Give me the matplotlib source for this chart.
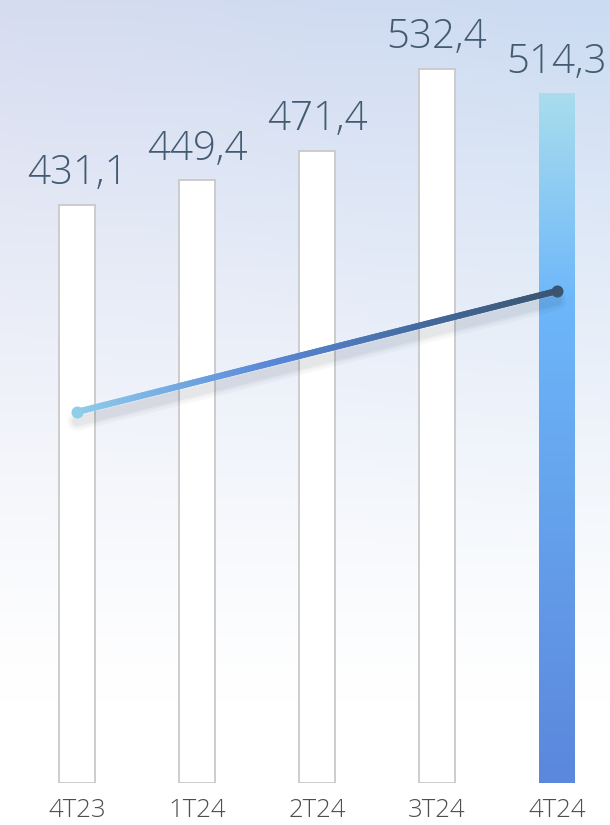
import numpy as np
import matplotlib
matplotlib.use("Agg")
import matplotlib.pyplot as plt
from matplotlib.colors import LinearSegmentedColormap, to_rgb
from matplotlib.collections import LineCollection
from matplotlib.patches import Rectangle

categories = ["4T23", "1T24", "2T24", "3T24", "4T24"]
values = [431.1, 449.4, 471.4, 532.4, 514.3]
labels = ["431,1", "449,4", "471,4", "532,4", "514,3"]
line_x = [0, 4]
line_vals = [276.7, 366.9]

W, H = 610, 825
fig = plt.figure(figsize=(W / 100, H / 100), dpi=100)

# background gradient
bg = fig.add_axes([0, 0, 1, 1])
bg.set_axis_off()
ny, nx = 200, 60
yy = np.linspace(0, 1, ny)[:, None]  # 0 top
xx = np.linspace(0, 1, nx)[None, :]
top_left = np.array(to_rgb("#d6dcf0"))
top_right = np.array(to_rgb("#cbdbf2"))
topc = top_left[None, None, :] * (1 - xx[..., None]) + top_right[None, None, :] * xx[..., None]
f = np.clip(1 - yy / 0.85, 0, 1) ** 1.2
img = 1 - (1 - topc) * f[..., None]
bg.imshow(img, aspect="auto", extent=[0, 1, 0, 1], origin="upper")
bg.set_xlim(0, 1)
bg.set_ylim(0, 1)

ax = fig.add_axes([0, (H - 783) / H, 1, 783 / H])
ax.patch.set_alpha(0)
xlim = (-77 / 120, (W - 77) / 120)
ylim = (0, 783 / 1.341)
ax.set_xlim(*xlim)
ax.set_ylim(*ylim)
for s in ax.spines.values():
    s.set_visible(False)
ax.tick_params(length=0)
ax.set_yticks([])

bw = 0.3
x = np.arange(len(categories))
for i, v in enumerate(values):
    if i < len(values) - 1:
        ax.bar(x[i], v, width=bw, color="white", edgecolor="#c9c9c9", linewidth=1.3, zorder=2)
    else:
        rect = Rectangle((x[i] - bw / 2, 0), bw, v, facecolor="none", edgecolor="none")
        ax.add_patch(rect)
        cmap_bar = LinearSegmentedColormap.from_list(
            "bar", [(0, "#5b87dc"), (0.7, "#6db7fa"), (1.0, "#a9dded")])
        grad = np.linspace(0, 1, 256)[:, None]
        im = ax.imshow(grad, cmap=cmap_bar, aspect="auto", origin="lower",
                       extent=[x[i] - bw / 2, x[i] + bw / 2, 0, v], zorder=2)
        im.set_clip_path(rect)
    ax.text(x[i], v + 8, labels[i], ha="center", va="bottom", fontsize=29,
            family="Open Sans", fontweight="light", color="#435b72", zorder=5)

ax.set_xlim(*xlim)
ax.set_ylim(*ylim)

# line shadow
n = 200
lx = np.linspace(line_x[0], line_x[1], n)
ly = np.interp(lx, line_x, line_vals)
for lw, a in [(14, 0.03), (10, 0.04), (7, 0.05)]:
    ax.plot(lx, ly - 7, color="#203040", lw=lw, alpha=a, solid_capstyle="round", zorder=3)

pts = np.column_stack([lx, ly]).reshape(-1, 1, 2)
segs = np.concatenate([pts[:-1], pts[1:]], axis=1)
cmap_line = LinearSegmentedColormap.from_list(
    "ln", [(0, "#8fcdeb"), (0.4, "#5a88d8"), (0.75, "#42689a"), (1, "#3b5570")])
lc = LineCollection(segs, cmap=cmap_line, linewidths=4.5, capstyle="round", zorder=4)
lc.set_array(np.linspace(0, 1, n - 1))
ax.add_collection(lc)
ax.scatter([line_x[0]], [line_vals[0]], s=75, color="#8fcdeb", zorder=5, linewidths=0)
ax.scatter([line_x[1]], [line_vals[1]], s=75, color="#3b5570", zorder=5, linewidths=0)

ax.set_xticks(x)
ax.set_xticklabels(categories, fontsize=18.5, family="Open Sans", fontweight="light", color="#4e4e4e")
ax.tick_params(axis="x", pad=11)

fig.savefig("out.png", dpi=100)
